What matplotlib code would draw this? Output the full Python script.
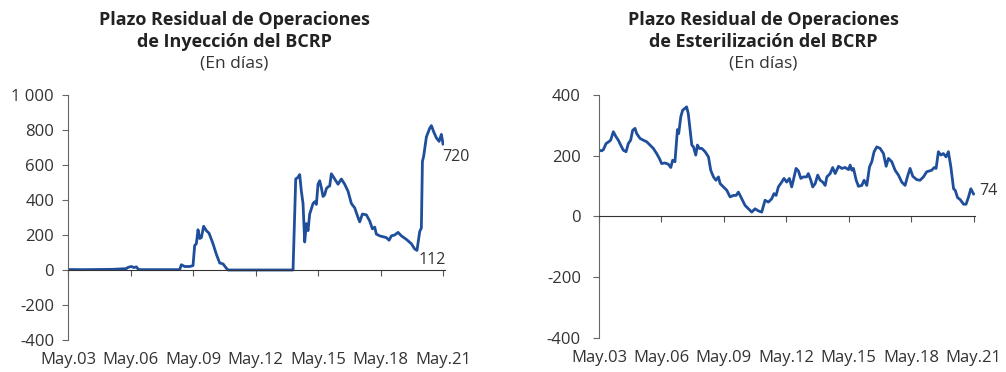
import matplotlib
matplotlib.use("Agg")
import matplotlib.pyplot as plt

plt.rcParams["font.family"] = ["Open Sans", "DejaVu Sans"]

# Inyeccion (decimal years, days)
iny_t = [2003.33, 2004.00, 2004.85, 2005.50, 2006.13, 2006.21, 2006.37, 2006.50, 2006.61, 2006.69, 2006.77,
         2008.69, 2008.77, 2008.93, 2009.17, 2009.33, 2009.41, 2009.49, 2009.57, 2009.65, 2009.73, 2009.84,
         2009.97, 2010.10, 2010.29, 2010.45, 2010.61, 2010.77, 2010.93, 2011.01,
         2014.13, 2014.26, 2014.37, 2014.45, 2014.53, 2014.61, 2014.69, 2014.77, 2014.85, 2014.93,
         2015.01, 2015.09, 2015.17, 2015.25, 2015.33, 2015.41, 2015.49, 2015.57, 2015.65, 2015.73, 2015.81,
         2015.89, 2015.97, 2016.13, 2016.29, 2016.45, 2016.61, 2016.77, 2016.93, 2017.09, 2017.25, 2017.33,
         2017.46, 2017.65, 2017.81, 2017.94, 2018.05, 2018.13, 2018.29, 2018.45, 2018.61, 2018.74, 2018.85,
         2019.01, 2019.17, 2019.33, 2019.57, 2019.81, 2019.97, 2020.08, 2020.21, 2020.29, 2020.34, 2020.40,
         2020.53, 2020.69, 2020.77, 2020.88, 2021.01, 2021.14, 2021.25, 2021.33]
iny_v = [3, 2, 3, 4, 8, 15, 20, 14, 18, 6, 2,
         2, 30, 20, 20, 25, 140, 150, 230, 180, 185, 250,
         225, 210, 150, 90, 40, 35, 10, 0,
         0, 520, 530, 545, 450, 380, 160, 265, 225, 320,
         350, 380, 390, 375, 490, 510, 470, 420, 430, 465, 475,
         480, 550, 520, 490, 520, 490, 450, 380, 355, 300, 275,
         320, 315, 280, 235, 245, 205, 195, 190, 185, 170, 195,
         200, 215, 195, 175, 150, 120, 112, 220, 240, 620, 650,
         760, 810, 825, 790, 755, 735, 775, 720]

# Esterilizacion
est_t = [2003.33, 2003.46, 2003.54, 2003.67, 2003.78, 2003.89, 2004.02, 2004.15, 2004.26, 2004.37, 2004.50,
         2004.63, 2004.74, 2004.85, 2004.95, 2005.06, 2005.14, 2005.30, 2005.46, 2005.62, 2005.78, 2005.94,
         2006.10, 2006.23, 2006.34, 2006.50, 2006.66, 2006.78, 2006.87, 2006.98, 2007.10, 2007.16, 2007.26,
         2007.35, 2007.46, 2007.54, 2007.62, 2007.70, 2007.79, 2007.87, 2007.98, 2008.06, 2008.15, 2008.27,
         2008.43, 2008.59, 2008.70, 2008.83, 2008.95, 2009.07, 2009.15, 2009.31, 2009.47, 2009.63, 2009.79,
         2009.92, 2010.03, 2010.19, 2010.35, 2010.51, 2010.67, 2010.83, 2010.99, 2011.15, 2011.31, 2011.47,
         2011.63, 2011.74, 2011.84, 2011.95, 2012.11, 2012.22, 2012.35, 2012.48, 2012.59, 2012.67, 2012.80,
         2012.91, 2013.03, 2013.15, 2013.31, 2013.39, 2013.51, 2013.60, 2013.72, 2013.84, 2013.96, 2014.08,
         2014.20, 2014.28, 2014.44, 2014.56, 2014.68, 2014.84, 2015.00, 2015.16, 2015.32, 2015.40, 2015.48,
         2015.56, 2015.69, 2015.80, 2015.96, 2016.07, 2016.20, 2016.33, 2016.44, 2016.55, 2016.68, 2016.84,
         2017.00, 2017.13, 2017.24, 2017.40, 2017.56, 2017.72, 2017.88, 2018.04, 2018.15, 2018.28, 2018.41,
         2018.60, 2018.76, 2018.92, 2019.08, 2019.32, 2019.44, 2019.53, 2019.64, 2019.76, 2019.88, 2020.01,
         2020.12, 2020.24, 2020.37, 2020.45, 2020.56, 2020.69, 2020.85, 2020.97, 2021.09, 2021.20, 2021.33]
est_v = [218, 216, 220, 240, 245, 251, 279, 262, 251, 235, 218,
         213, 240, 251, 284, 290, 273, 257, 251, 246, 235, 224,
         207, 191, 174, 176, 172, 161, 185, 180, 286, 273, 328,
         350, 356, 361, 339, 290, 235, 229, 202, 235, 224, 224,
         213, 196, 152, 130, 119, 130, 108, 97, 86, 64, 69,
         69, 80, 58, 36, 25, 14, 25, 18, 14, 53, 47,
         58, 75, 69, 97, 113, 125, 113, 125, 97, 119, 158,
         150, 125, 130, 130, 141, 119, 97, 108, 136, 119, 113,
         102, 130, 141, 161, 141, 165, 158, 161, 154, 169, 152,
         158, 119, 99, 102, 119, 102, 163, 180, 213, 229, 224,
         207, 165, 191, 180, 152, 136, 113, 102, 130, 158, 132,
         121, 119, 130, 147, 152, 161, 158, 213, 202, 207, 196,
         213, 163, 91, 86, 62, 55, 40, 40, 64, 91, 74]

tick_pos = [2003.33, 2006.33, 2009.33, 2012.33, 2015.33, 2018.33, 2021.33]
tick_lab = ["May.03", "May.06", "May.09", "May.12", "May.15", "May.18", "May.21"]

iny_yticks = [-400, -200, 0, 200, 400, 600, 800, 1000]
iny_ylab = ["-400", "-200", "0", "200", "400", "600", "800", "1 000"]
est_yticks = [-400, -200, 0, 200, 400]
est_ylab = ["-400", "-200", "0", "200", "400"]

BLUE = "#1F4E9B"
TXT = "#333333"
W, H = 1006, 372

fig = plt.figure(figsize=(W / 100, H / 100), dpi=100)


def px_axes(x0, x1, ytop, ybot):
    return fig.add_axes([x0 / W, 1 - ybot / H, (x1 - x0) / W, (ybot - ytop) / H])


def style(ax, yticks, ylabs, ylim, ypad):
    ax.set_xlim(2003.33, 2021.4)
    ax.set_ylim(*ylim)
    for s in ["top", "right"]:
        ax.spines[s].set_visible(False)
    ax.spines["bottom"].set_position(("data", 0))
    ax.spines["bottom"].set_color("#333333")
    ax.spines["left"].set_color("#666666")
    ax.set_yticks(yticks)
    ax.set_yticklabels(ylabs)
    ax.set_xticks(tick_pos)
    ax.tick_params(axis="x", direction="out", length=4, color="#555555", labelbottom=False)
    ax.tick_params(axis="y", direction="out", length=4, color="#666666", labelsize=12,
                   labelcolor=TXT, pad=ypad)
    for p, lab in zip(tick_pos, tick_lab):
        ax.text(p, -0.05, lab, transform=ax.get_xaxis_transform(), ha="center", va="top",
                fontsize=12, color=TXT)


ax1 = px_axes(68, 444.5, 95, 340)
ax1.plot(iny_t, iny_v, color=BLUE, lw=2.0)
style(ax1, iny_yticks, iny_ylab, (-400, 1000), 6)
ax1.text(2021.28, 648, "720", ha="left", va="center", fontsize=11.5, color=TXT)
ax1.text(2020.15, 58, "112", ha="left", va="center", fontsize=11.5, color=TXT)

ax2 = px_axes(599, 975, 95, 337.7)
ax2.plot(est_t, est_v, color=BLUE, lw=2.0)
style(ax2, est_yticks, est_ylab, (-400, 400), 9)
ax2.text(2021.6, 84, "74", ha="left", va="center", fontsize=11.5, color=TXT)

# titles
for cx, l2 in [(234, "de Inyección del BCRP"), (763, "de Esterilización del BCRP")]:
    fig.text(cx / W, 1 - 20 / H, "Plazo Residual de Operaciones", ha="center", va="center",
             fontsize=13, fontweight="bold", color="#222222")
    fig.text(cx / W, 1 - 42 / H, l2, ha="center", va="center",
             fontsize=13, fontweight="bold", color="#222222")
    fig.text(cx / W, 1 - 64 / H, "(En días)", ha="center", va="center",
             fontsize=12.5, color=TXT)

fig.savefig("out.png", dpi=100)
